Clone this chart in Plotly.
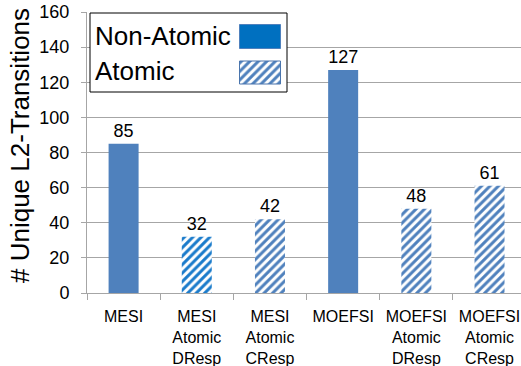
import plotly.graph_objects as go

# Coherence protocols and their unique L2 transition counts
categories = ["MESI", "MESI<br>Atomic<br>DResp", "MESI<br>Atomic<br>CResp",
              "MOEFSI", "MOEFSI<br>Atomic<br>DResp", "MOEFSI<br>Atomic<br>CResp"]
transitions = [85, 32, 42, 127, 48, 61]
atomic = [False, True, True, False, True, True]
y_ticks = [0, 20, 40, 60, 80, 100, 120, 140, 160]

FONT = "Liberation Sans"
SOLID = "#4F81BD"
HATCH = {"MESI<br>Atomic<br>DResp": "#1A7BCB"}
GRID = "#A6A6A6"

solid_x = [c for c, a in zip(categories, atomic) if not a]
solid_y = [v for v, a in zip(transitions, atomic) if not a]
hatch_x = [c for c, a in zip(categories, atomic) if a]
hatch_y = [v for v, a in zip(transitions, atomic) if a]
hatch_fg = [HATCH.get(c, SOLID) for c in hatch_x]

fig = go.Figure()
fig.add_trace(go.Bar(
    x=solid_x, y=solid_y, width=0.41,
    marker=dict(color=SOLID, line=dict(width=0)),
    text=[str(v) for v in solid_y], textposition="outside",
    textfont=dict(family=FONT, size=18, color="black"),
    cliponaxis=False, showlegend=False,
))
fig.add_trace(go.Bar(
    x=hatch_x, y=hatch_y, width=0.41,
    marker=dict(color="white", line=dict(width=0),
                pattern=dict(shape="/", fgcolor=hatch_fg, bgcolor="white",
                             size=6, solidity=0.5, fillmode="replace")),
    text=[str(v) for v in hatch_y], textposition="outside",
    textfont=dict(family=FONT, size=18, color="black"),
    cliponaxis=False, showlegend=False,
))

# Legend panel drawn on a pixel-scaled overlay axis (text left, swatch right)
W, H = 521, 366
L, T, B = 87, 12, 293
fig.add_trace(go.Bar(
    x=[(90 + 287) / 2], y=[92 - 13], base=[13], width=[287 - 90],
    marker=dict(color="white", line=dict(color="black", width=1)),
    xaxis="x2", yaxis="y2", showlegend=False, hoverinfo="skip",
))
fig.add_trace(go.Bar(
    x=[260], y=[24], base=[24.5], width=[41],
    marker=dict(color="#0070C0", line=dict(color="#4F81BD", width=1)),
    xaxis="x2", yaxis="y2", showlegend=False, hoverinfo="skip",
))
fig.add_trace(go.Bar(
    x=[260], y=[23], base=[61], width=[41],
    marker=dict(color="white", line=dict(color="#4A75AD", width=1),
                pattern=dict(shape="/", fgcolor=SOLID, bgcolor="white",
                             size=6, solidity=0.5, fillmode="replace")),
    xaxis="x2", yaxis="y2", showlegend=False, hoverinfo="skip",
))
for label, yc in [("Non-Atomic", 36), ("Atomic", 71)]:
    fig.add_annotation(x=93, y=yc, xref="x2", yref="y2", text=label,
                       showarrow=False, xanchor="left", yanchor="middle",
                       font=dict(family=FONT, size=26, color="black"))

# Y axis title
fig.add_annotation(x=(20 - L) / (W - L), y=(B - 146) / (B - T),
                   xref="paper", yref="paper", text="# Unique L2-Transitions",
                   textangle=-90, showarrow=False, xanchor="center", yanchor="middle",
                   font=dict(family=FONT, size=26, color="black"))

fig.update_layout(
    width=W, height=H,
    margin=dict(l=L, r=0, t=T, b=H - B, pad=0),
    paper_bgcolor="white", plot_bgcolor="white",
    barmode="overlay",
    xaxis=dict(type="category", categoryorder="array", categoryarray=categories,
               range=[-0.5, 5.43], showgrid=False, showline=True, linecolor=GRID,
               linewidth=1, ticks="outside", tickson="boundaries", ticklen=6,
               tickcolor=GRID, ticklabelstandoff=9,
               tickfont=dict(family=FONT, size=16, color="black")),
    yaxis=dict(range=[0, 160], tickvals=y_ticks, showgrid=True, gridcolor=GRID,
               gridwidth=1, showline=True, linecolor=GRID, linewidth=1,
               ticks="outside", ticklen=5, tickcolor=GRID, zeroline=False,
               ticklabelstandoff=8,
               tickfont=dict(family=FONT, size=18, color="black")),
    xaxis2=dict(overlaying="x", range=[L, W], visible=False, fixedrange=True),
    yaxis2=dict(overlaying="y", range=[B, T], visible=False, fixedrange=True),
)

fig.write_html("out.html")
